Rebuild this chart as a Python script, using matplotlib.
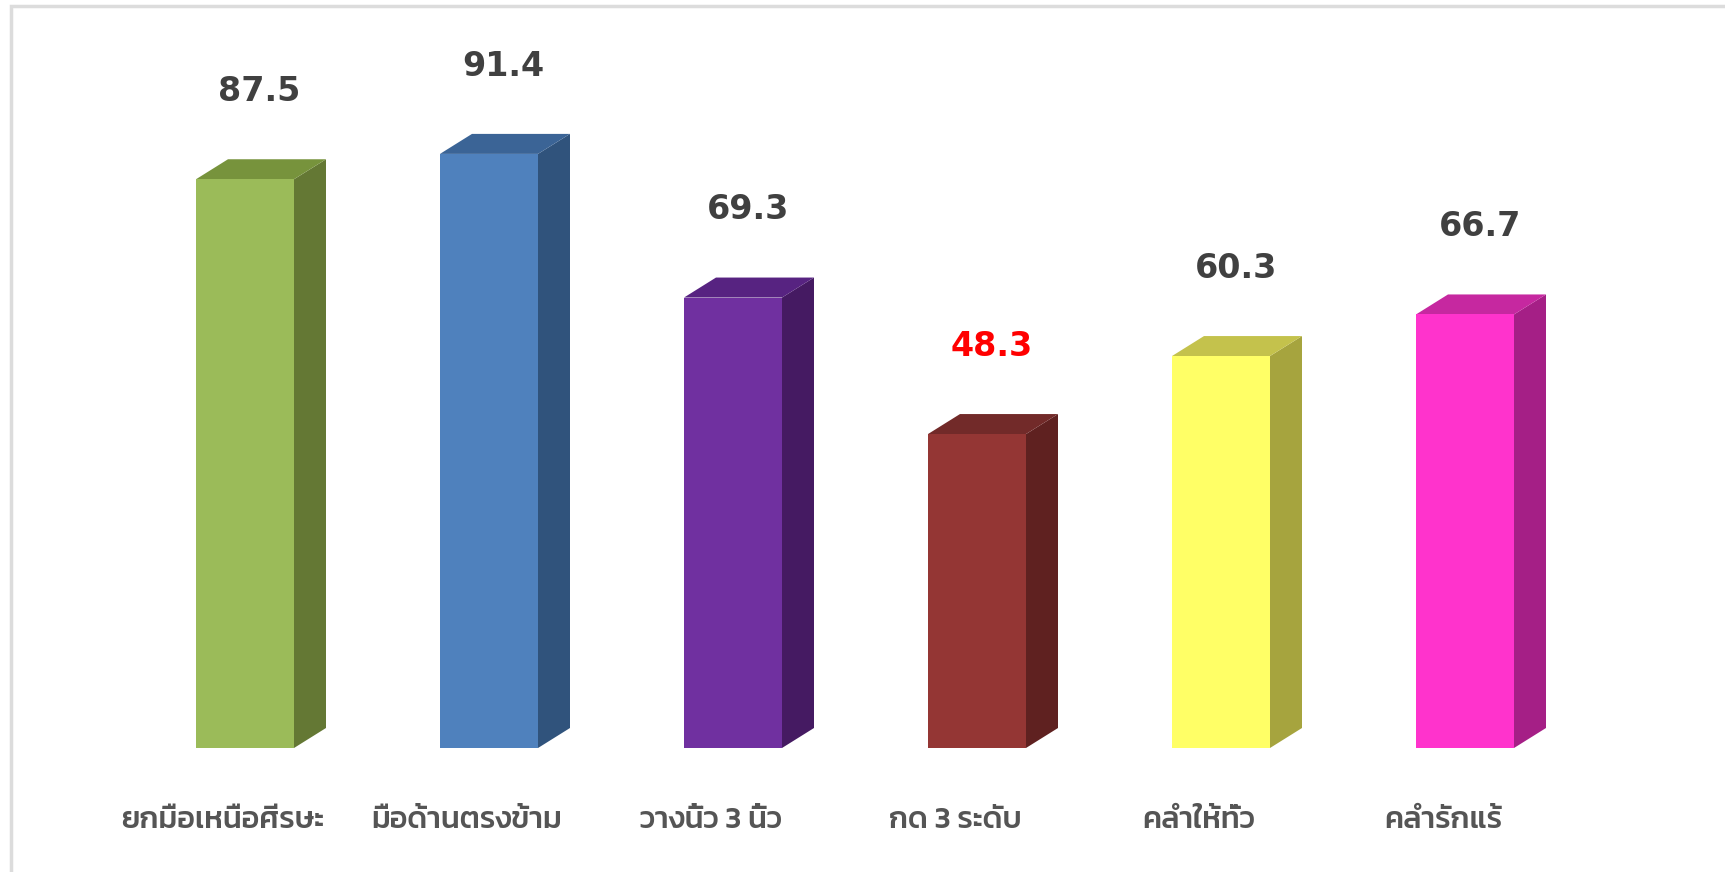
import glob
import matplotlib
matplotlib.use("Agg")
import matplotlib.pyplot as plt
from matplotlib.patches import Polygon, Rectangle
from matplotlib.font_manager import FontProperties

# data
categories = ["ยกมือเหนือศีรษะ", "มือด้านตรงข้าม", "วางนิ้ว 3 นิ้ว",
              "กด 3 ระดับ", "คลำให้ทั่ว", "คลำรักแร้"]
values = [87.5, 91.4, 69.3, 48.3, 60.3, 66.7]
front_colors = ["#9BBB59", "#4F81BD", "#7030A0", "#943634", "#FFFF66", "#FF33CC"]
top_colors = ["#77933C", "#3B6496", "#572381", "#722A29", "#C4C24C", "#C628A0"]
side_colors = ["#647834", "#30537C", "#451A62", "#5F2120", "#A6A43E", "#A51F86"]
label_colors = ["#404040", "#404040", "#404040", "#FF0000", "#404040", "#404040"]

# loopless Thai font for the category labels
thai_files = (glob.glob("/usr/share/fonts/**/Kanit-Medium.ttf", recursive=True)
              + glob.glob("/usr/share/fonts/**/Kanit-Regular.ttf", recursive=True))
if thai_files:
    thai_font = FontProperties(fname=thai_files[0], size=22)
else:
    thai_font = FontProperties(family=["Kanit", "DejaVu Sans"], size=22)

W, H = 1725, 872
fig = plt.figure(figsize=(W / 100, H / 100), dpi=100)
ax = fig.add_axes([0, 0, 1, 1])

# pixel -> data mapping (category spacing 244 px, 6.5 px per unit)
px_x = 244.0
px_y = 6.5
x0 = 245.0
base = H - 748.0
ax.set_xlim(-x0 / px_x, (W - x0) / px_x)
ax.set_ylim(-base / px_y, (H - base) / px_y)
ax.axis("off")

bar_w = 98 / px_x
dx = 32 / px_x
dy = 20 / px_y
xs = list(range(len(values)))

ax.bar(xs, values, width=bar_w, color=front_colors, zorder=3)
for x, v, tc, sc in zip(xs, values, top_colors, side_colors):
    l, r = x - bar_w / 2, x + bar_w / 2
    ax.add_patch(Polygon([(r, 0), (r + dx, dy), (r + dx, v + dy), (r, v)],
                         closed=True, facecolor=sc, edgecolor="none", zorder=2))
    ax.add_patch(Polygon([(l, v), (l + dx, v + dy), (r + dx, v + dy), (r, v)],
                         closed=True, facecolor=tc, edgecolor="none", zorder=2))

for x, v, c in zip(xs, values, label_colors):
    ax.text(x + 0.06, v + 13.5, f"{v:.1f}", ha="center", va="center",
            fontsize=24, fontweight="bold", color=c, family="DejaVu Sans")

label_y = (H - 820 - base) / px_y
for x, name in zip(xs, categories):
    ax.text(x - 0.09, label_y, name, ha="center", va="center",
            color="#555555", fontproperties=thai_font)

# light grey frame of the chart area
frame = Rectangle((11 / W, -0.1), 2.0, (H - 5.5) / H + 0.1, transform=fig.transFigure,
                  fill=False, edgecolor="#DCDCDC", linewidth=2.5)
fig.patches.append(frame)

fig.savefig("out.png", dpi=100, facecolor="white")
